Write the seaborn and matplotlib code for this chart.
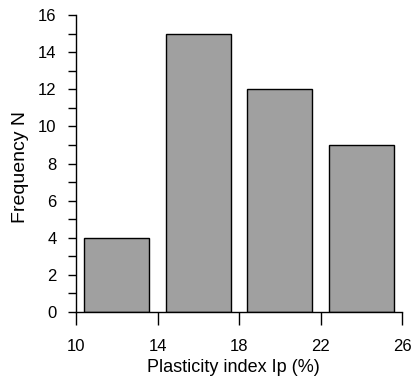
import matplotlib
matplotlib.use("Agg")
import matplotlib.pyplot as plt
import seaborn as sns
import numpy as np
from matplotlib.ticker import MultipleLocator

# Data
bin_edges = [10, 14, 18, 22, 26]
bin_centers = [12, 16, 20, 24]
frequencies = [4, 15, 12, 9]
x_ticks = [10, 14, 18, 22, 26]
y_ticks = [0, 2, 4, 6, 8, 10, 12, 14, 16]

sns.set_theme(style="ticks")
plt.rcParams['font.family'] = ['Liberation Sans', 'DejaVu Sans']

fig = plt.figure(figsize=(4.12, 3.85), dpi=100)
ax = fig.add_axes([76/412, 1 - 312/385, (402 - 76)/412, (312 - 15)/385])

sns.histplot(x=bin_centers, weights=frequencies, bins=bin_edges, shrink=0.8,
             color="#a0a0a0", alpha=1, edgecolor="black", linewidth=1.0, ax=ax)

ax.set_xlim(10, 26)
ax.set_ylim(0, 16)
ax.set_xticks(x_ticks)
ax.set_yticks(y_ticks)
ax.yaxis.set_minor_locator(MultipleLocator(1))
for s in ["top", "right"]:
    ax.spines[s].set_visible(False)
for s in ["left", "bottom"]:
    ax.spines[s].set_linewidth(1.0)
    ax.spines[s].set_color("black")
ax.tick_params(axis="x", direction="out", length=9.5, width=1.0, pad=10,
               labelsize=12, colors="black")
ax.tick_params(axis="y", which="major", direction="out", length=6, width=1.0,
               pad=8, labelsize=12, colors="black")
ax.tick_params(axis="y", which="minor", direction="out", length=6, width=1.0,
               colors="black")
ax.set_xlabel("Plasticity index Ip (%)", fontsize=13, color="black")
ax.set_ylabel("Frequency N", fontsize=14, color="black")
ax.xaxis.set_label_coords((233 - 76) / 326, -(359 - 312) / 297)
ax.yaxis.set_label_coords(-(76 - 29) / 326, (312 - 167) / 297)
ax.grid(False)

fig.savefig("out.png", dpi=100)
